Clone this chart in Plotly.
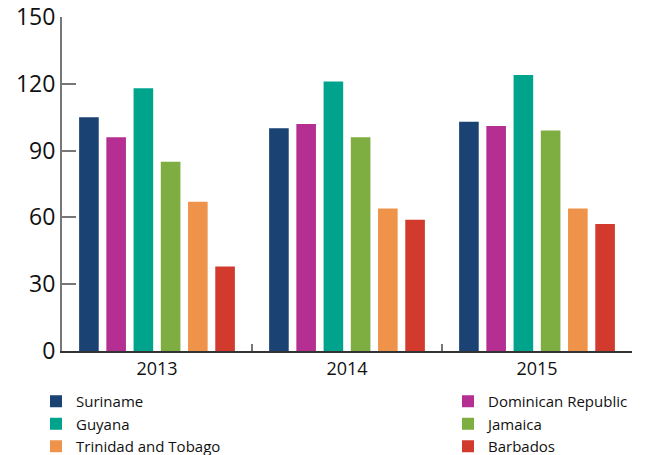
import plotly.graph_objects as go

years = ["2013", "2014", "2015"]
countries = ["Suriname", "Dominican Republic", "Guyana", "Jamaica", "Trinidad and Tobago", "Barbados"]
suriname = [105, 100, 103]
dominican = [96, 102, 101]
guyana = [118, 121, 124]
jamaica = [85, 96, 99]
trinidad = [67, 64, 64]
barbados = [38, 59, 57]
series = [suriname, dominican, guyana, jamaica, trinidad, barbados]
colors = ["#1a4273", "#b52f93", "#00a48c", "#7ead41", "#ef934a", "#d23a2e"]
legend_ids = ["legend", "legend2", "legend", "legend2", "legend", "legend2"]
y_ticks = [0, 30, 60, 90, 120, 150]

fig = go.Figure()
for name, vals, c, lg in zip(countries, series, colors, legend_ids):
    fig.add_trace(go.Bar(x=years, y=vals, name=name, legend=lg,
                         marker=dict(color=c, line=dict(width=0))))

font = "Open Sans, Noto Sans, sans-serif"
W, H = 649, 455
leg_common = dict(orientation="v", xref="container", yref="container",
                  xanchor="left", yanchor="top", font=dict(size=15, color="#111"),
                  itemwidth=30, tracegroupgap=0, traceorder="normal",
                  bgcolor="rgba(0,0,0,0)")
fig.update_layout(
    width=W, height=H,
    margin=dict(l=62, r=17, t=17, b=104, autoexpand=False),
    paper_bgcolor="white", plot_bgcolor="white",
    barmode="group", bargap=0.14, bargroupgap=0.28,
    font=dict(family=font, color="#111"),
    showlegend=True,
    legend=dict(x=36 / W, y=1 - 385 / H, **leg_common),
    legend2=dict(x=448 / W, y=1 - 385 / H, **leg_common),
    xaxis=dict(showline=True, linecolor="#333", linewidth=2,
               ticks="inside", tickson="boundaries", ticklen=7, tickwidth=2, tickcolor="#777",
               tickfont=dict(size=18, color="#111"), showgrid=False, zeroline=False),
    yaxis=dict(range=[0, 150], tickvals=y_ticks, showline=True, linecolor="#777", linewidth=2,
               ticks="inside", ticklen=14, tickwidth=2, tickcolor="#777",
               ticklabeloverflow="allow",
               tickfont=dict(size=23, color="#111"), showgrid=False, zeroline=False),
)
fig.write_html("out.html", config={"displayModeBar": False},
               post_script="document.body.style.margin='0';document.body.style.overflow='hidden';")
